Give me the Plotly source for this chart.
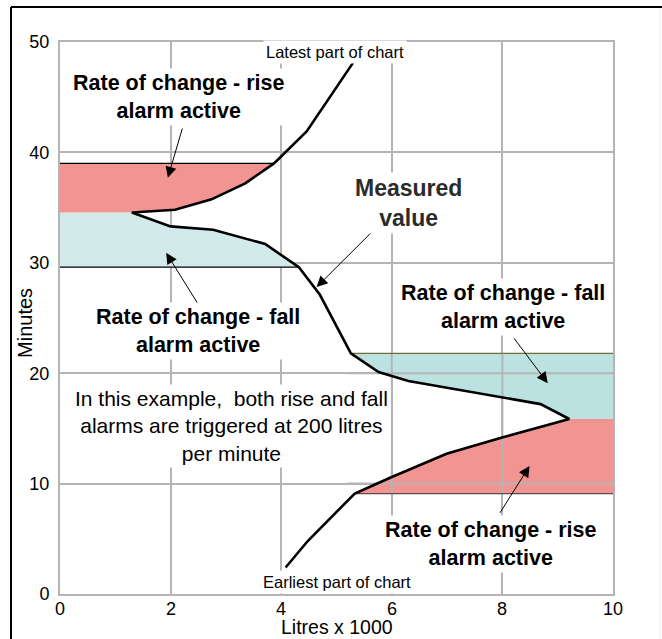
import plotly.graph_objects as go

# Measured value trace: litres (x 1000) against elapsed minutes
curve_minutes = [2.4, 4.8, 9.1, 10.6, 12.7, 14.2, 15.85, 17.2, 19.3, 20.1, 21.8,
                 27.1, 29.6, 31.7, 33.0, 33.3, 34.55, 34.8, 35.75, 37.2, 39.0, 41.9, 48.2]
curve_litres = [4.08, 4.48, 5.33, 6.0, 6.99, 8.01, 9.21, 8.69, 6.30, 5.76, 5.26,
                4.70, 4.32, 3.71, 2.77, 2.0, 1.30, 2.08, 2.74, 3.35, 3.87, 4.46, 5.31]

# Alarm bands (minutes): start, end, side the band extends to, kind
band_starts = [9.1, 15.85, 29.6, 34.55]
band_ends = [15.85, 21.8, 34.55, 39.0]
band_edges = [10, 10, 0, 0]
band_kinds = ["rise", "fall", "fall", "rise"]
band_colors = {"rise": "#f29492", "fall_low": "#bbe2e0", "fall_high": "#d2ebea"}

x_ticks = [0, 2, 4, 6, 8, 10]
y_ticks = [0, 10, 20, 30, 40, 50]

FONT = "Liberation Sans, Arial, sans-serif"
GRID = "#b4b4b4"

fig = go.Figure()


def band_polygon(lo, hi, edge):
    pts = [(x, y) for x, y in zip(curve_litres, curve_minutes) if lo <= y <= hi]
    xs = [p[0] for p in pts] + [edge, edge]
    ys = [p[1] for p in pts] + [pts[-1][1], pts[0][1]]
    return xs, ys


for lo, hi, edge, kind in zip(band_starts, band_ends, band_edges, band_kinds):
    xs, ys = band_polygon(lo, hi, edge)
    if kind == "rise":
        col = band_colors["rise"]
    else:
        col = band_colors["fall_low"] if edge == 10 else band_colors["fall_high"]
    fig.add_trace(go.Scatter(x=xs + [xs[0]], y=ys + [ys[0]], mode="lines",
                             fill="toself", fillcolor=col, line=dict(width=0),
                             hoverinfo="skip", showlegend=False))

# Grid lines pass over the lower-right alarm bands
lo_band, hi_band = band_starts[0], band_ends[1]
for gx in [6, 8]:
    fig.add_trace(go.Scatter(x=[gx, gx], y=[lo_band, hi_band], mode="lines",
                             line=dict(color=GRID, width=2), hoverinfo="skip",
                             showlegend=False))
for gy in [10, 20]:
    fig.add_trace(go.Scatter(x=[5.2, 10], y=[gy, gy], mode="lines",
                             line=dict(color=GRID, width=2), hoverinfo="skip",
                             showlegend=False))


def curve_x_at(m):
    return curve_litres[curve_minutes.index(m)]


# Thin boundary lines at the outer edge of each alarm zone
edge_lines = [
    (band_starts[0], "#5a4c4c"),
    (band_ends[1], "#6f6b3c"),
    (band_starts[2], "#000000"),
    (band_ends[3], "#000000"),
]
for m, col in edge_lines:
    cx = curve_x_at(m)
    end = 10 if m < 25 else 0
    fig.add_trace(go.Scatter(x=[cx, end], y=[m, m], mode="lines",
                             line=dict(color=col, width=1.2), hoverinfo="skip",
                             showlegend=False))

# Measured value
fig.add_trace(go.Scatter(x=curve_litres, y=curve_minutes, mode="lines",
                         line=dict(color="black", width=2.6), hoverinfo="skip",
                         showlegend=False))

annotations = []


def label(text, x, y, size, bold=False, color="black"):
    if bold:
        text = "<b>" + text + "</b>"
    annotations.append(dict(text=text, x=x, y=y, xref="x", yref="y",
                            showarrow=False, bgcolor="white", borderpad=2,
                            font=dict(family=FONT, size=size, color=color),
                            align="center", xanchor="center", yanchor="middle"))


def arrow(x0, y0, x1, y1):
    annotations.append(dict(text="", x=x1, y=y1, ax=x0, ay=y0, xref="x", yref="y",
                            axref="x", ayref="y", showarrow=True, arrowhead=2,
                            arrowsize=2.2, arrowwidth=1, arrowcolor="black",
                            standoff=0, startstandoff=0))


arrow(2.22, 42.3, 1.95, 37.7)
arrow(2.53, 26.0, 1.92, 30.9)
arrow(5.71, 33.15, 4.64, 27.8)
arrow(8.19, 23.3, 8.82, 19.1)
arrow(7.94, 7.22, 8.49, 11.6)

label("Latest part of chart", 4.98, 49.1, 16.5)
label("Earliest part of chart", 5.01, 1.1, 16.5)
label("Rate of change - rise<br>alarm active", 2.16, 45.0, 21.5, bold=True)
label("Measured<br>value", 6.31, 35.4, 23, bold=True, color="#2b2b2b")
label("Rate of change - fall<br>alarm active", 2.50, 23.8, 21.5, bold=True)
label("In this example,\u00a0 both rise and fall<br>alarms are triggered at 200 litres<br>per minute",
      3.11, 15.2, 21)
label("Rate of change - fall<br>alarm active", 8.01, 26.0, 21.5, bold=True)
label("Rate of change - rise<br>alarm active", 7.79, 4.57, 21.5, bold=True)

# Tick labels along the bottom edge
for v in x_ticks:
    annotations.append(dict(text=str(v), x=v, y=-0.006, xref="x", yref="paper",
                            showarrow=False, xanchor="center", yanchor="top",
                            font=dict(family=FONT, size=18, color="black")))

# Axis titles
annotations.append(dict(text="Litres x 1000", x=0.5, y=-0.0598, xref="paper", yref="paper",
                        showarrow=False, xanchor="center", yanchor="middle",
                        font=dict(family=FONT, size=19.5, color="black")))
annotations.append(dict(text="Minutes", x=-0.0633, y=0.491, xref="paper", yref="paper",
                        showarrow=False, xanchor="center", yanchor="middle", textangle=-90,
                        font=dict(family=FONT, size=20, color="black")))

# Outer frame
shapes = [
    dict(type="line", xref="paper", yref="paper", x0=-0.0886, x1=-0.0886, y0=1.0634, y1=-0.12,
         line=dict(color="black", width=2)),
    dict(type="line", xref="paper", yref="paper", x0=-0.0886, x1=1.1, y0=1.0634, y1=1.0634,
         line=dict(color="black", width=2)),
    dict(type="line", xref="paper", yref="paper", x0=1.085, x1=1.085, y0=1.06, y1=-0.12,
         line=dict(color="#ececec", width=1)),
]

fig.update_layout(
    width=662, height=639,
    margin=dict(l=60, r=49, t=42, b=45),
    paper_bgcolor="white", plot_bgcolor="white",
    font=dict(family=FONT, size=18, color="black"),
    annotations=annotations, shapes=shapes,
    xaxis=dict(range=[0, 10], tickvals=x_ticks, showticklabels=False,
               showgrid=True, gridcolor=GRID, gridwidth=2, zeroline=False,
               showline=True, linecolor=GRID, linewidth=2, mirror=True, ticks=""),
    yaxis=dict(range=[0, 50], tickvals=y_ticks, ticktext=[str(v) for v in y_ticks],
               showgrid=True, gridcolor=GRID, gridwidth=2, zeroline=False,
               showline=True, linecolor=GRID, linewidth=2, mirror=True,
               ticks="", ticklabelstandoff=5, tickfont=dict(size=18)),
)

fig.write_html("out.html")
